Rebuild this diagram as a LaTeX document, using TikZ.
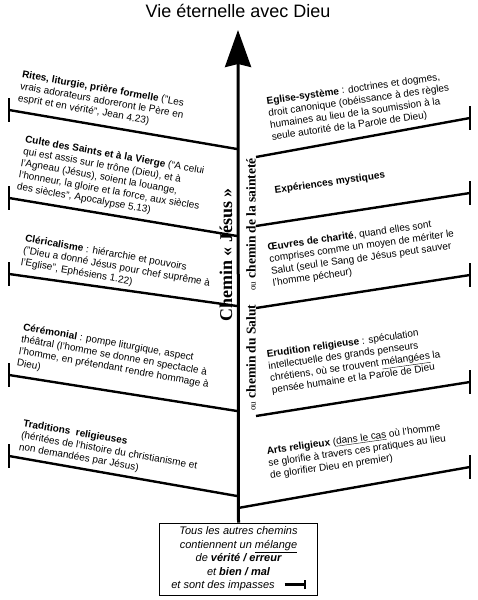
\documentclass[tikz,border=0pt]{standalone}
\usepackage{fontspec}
\setmainfont{Liberation Sans}
\newfontfamily\serifface{Liberation Serif}
\usetikzlibrary{arrows.meta,calc}
\begin{document}
\begin{tikzpicture}[x=1pt,y=-1pt,
  txt/.style={inner sep=0pt, align=left, font=\fontsize{10}{12}\selectfont},
  ltxt/.style={txt, anchor=north west, rotate=-10},
  rtxt/.style={txt, anchor=north west, rotate=8},
  branch/.style={line width=2.4pt},
  tbar/.style={line width=2.2pt},
  mainline/.style={line width=3pt, -{Stealth[length=37pt,width=26pt,inset=3pt]}},
  vert/.style={rotate=90, inner sep=0pt, anchor=west},
  endbox/.style={draw, line width=0.8pt, minimum width=158pt, minimum height=72pt,
    inner sep=0pt, align=center, font=\itshape\fontsize{11}{13.5}\selectfont}
]
\useasboundingbox (0,0) rectangle (478,600);

% title
\node[font=\fontsize{18}{18}\selectfont, anchor=base, inner sep=0pt] (title) at (238,17) {Vie éternelle avec Dieu};

% bottom box
\node[endbox] (box) at (238.5,559) {Tous les autres chemins\\contiennent un \underline{mélange}\\de \textbf{vérité / erreur}\\et \textbf{bien / mal}\\et sont des impasses\hspace{10pt}\rule[0.3em]{19pt}{2.6pt}\rule[-0.05em]{2pt}{0.9em}};

% main path
\coordinate (tip) at (238,30);
\draw[mainline] (box.north) -- (tip);

% left branches
\foreach \n/\ya/\yb in {1/149/110, 2/236/198, 3/306/274, 4/411/375, 5/496/456} {
  \coordinate (l\n a) at (237,\ya);
  \coordinate (l\n b) at (9,\yb);
  \draw[branch] (l\n a) -- (l\n b);
  \draw[tbar] ($(l\n b)+(0,-12)$) -- ($(l\n b)+(0,12)$);
}
% right branches
\foreach \n/\xa/\ya/\yb in {1/256/157/118, 2/256/226/193, 3/256/308/275, 4/256/416/382, 5/238/508/467} {
  \coordinate (r\n a) at (\xa,\ya);
  \coordinate (r\n b) at (470,\yb);
  \draw[branch] (r\n a) -- (r\n b);
  \draw[tbar] ($(r\n b)+(0,-12)$) -- ($(r\n b)+(0,12)$);
}

% vertical labels
\node[rotate=90, inner sep=0pt, font=\serifface\bfseries\fontsize{18}{18}\selectfont] (jesus) at (226,255) {Chemin «~Jésus~»};
\node[vert, font=\serifface\fontsize{13.5}{13.5}\selectfont] (saintete) at (251,291) {{\fontsize{9}{9}\selectfont ou} \textbf{chemin de la sainteté}};
\node[vert, font=\serifface\fontsize{13.5}{13.5}\selectfont] (salut) at (251,411) {{\fontsize{9}{9}\selectfont ou} \textbf{chemin du Salut}};

% left texts
\node[ltxt] (rites) at (23,70) {\textbf{Rites, liturgie, prière formelle} ("Les\\vrais adorateurs adoreront le Père en\\esprit et en vérité", Jean 4.23)};
\node[ltxt] (culte) at (26,135) {\textbf{Culte des Saints et à la Vierge} ("A celui\\qui est assis sur le trône (Dieu), et à\\l'Agneau (Jésus), soient la louange,\\l'honneur, la gloire et la force, aux siècles\\des siècles", Apocalypse 5.13)};
\node[ltxt] (clerical) at (26,234) {\textbf{Cléricalisme} : hiérarchie et pouvoirs\\("Dieu a donné Jésus pour chef suprême à\\l'Eglise", Ephésiens 1.22)};
\node[ltxt] (ceremonial) at (24,323) {\textbf{Cérémonial} : pompe liturgique, aspect\\théâtral (l'homme se donne en spectacle à\\l'homme, en prétendant rendre hommage à\\Dieu)};
\node[ltxt] (traditions) at (24,419) {\textbf{Traditions\ \ religieuses}\\(héritées de l'histoire du christianisme et\\non demandées par Jésus)};

% right texts
\node[rtxt] (eglise) at (266,97) {\textbf{Eglise-système} : doctrines et dogmes,\\droit canonique (obéissance à des règles\\humaines au lieu de la soumission à la\\seule autorité de la Parole de Dieu)};
\node[rtxt] (mystiques) at (274,186) {\textbf{Expériences mystiques}};
\node[rtxt] (oeuvres) at (267,243) {\textbf{Œuvres de charité}, quand elles sont\\comprises comme un moyen de mériter le\\Salut (seul le Sang de Jésus peut sauver\\l'homme pécheur)};
\node[rtxt] (erudition) at (266,350) {\textbf{Erudition religieuse} : spéculation\\intellectuelle des grands penseurs\\chrétiens, où se trouvent \underline{mélangées} la\\pensée humaine et la Parole de Dieu};
\node[rtxt] (arts) at (266,447) {\textbf{Arts religieux} (\underline{dans le cas} où l'homme\\se glorifie à travers ces pratiques au lieu\\de glorifier Dieu en premier)};
\end{tikzpicture}
\end{document}
